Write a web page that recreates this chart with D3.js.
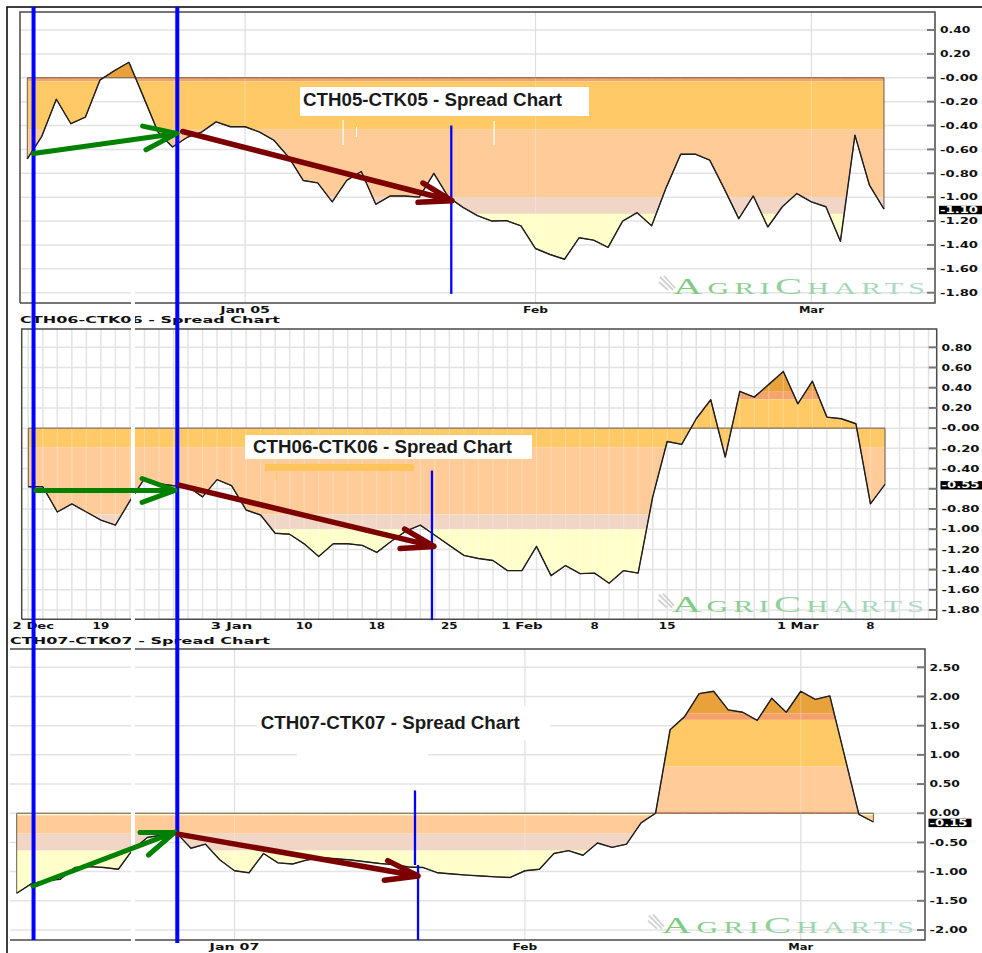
<!DOCTYPE html>
<html><head><meta charset="utf-8">
<script src="https://cdn.jsdelivr.net/npm/d3@7"></script>
<style>body{margin:0;background:#fff}svg{display:block}</style>
</head><body>
<svg id="c" width="982" height="953"></svg>
<script>
// ---------------- DATA ----------------
const titles = ["CTH05-CTK05 - Spread Chart", "CTH06-CTK06 - Spread Chart", "CTH07-CTK07 - Spread Chart"];

// daily spread values (trading-day index 0..59)
const spread05 = [-0.68,-0.49,-0.18,-0.385,-0.33,-0.02,0.06,0.13,-0.16,-0.455,
  -0.58,-0.50,-0.455,-0.37,-0.41,-0.41,-0.455,-0.525,-0.665,-0.86,
  -0.88,-1.04,-0.86,-0.785,-1.06,-0.99,-0.99,-1.0,-0.80,-1.0,
  -1.085,-1.155,-1.20,-1.196,-1.24,-1.43,-1.48,-1.52,-1.34,-1.36,
  -1.42,-1.20,-1.13,-1.24,-0.92,-0.64,-0.64,-0.69,-0.93,-1.18,
  -0.99,-1.25,-1.08,-0.97,-1.04,-1.08,-1.37,-0.48,-0.90,-1.10];
const spread06 = [-0.58,-0.58,-0.83,-0.75,-0.83,-0.91,-0.96,-0.72,-0.50,-0.55,
  -0.57,-0.58,-0.68,-0.51,-0.57,-0.81,-0.86,-1.04,-1.05,-1.145,
  -1.27,-1.145,-1.145,-1.16,-1.23,-1.12,-1.02,-0.96,-1.06,-1.16,
  -1.26,-1.29,-1.31,-1.41,-1.41,-1.17,-1.46,-1.36,-1.44,-1.435,
  -1.535,-1.41,-1.435,-0.683,-0.132,-0.161,0.093,0.281,-0.287,0.363,
  0.307,0.433,0.561,0.24,0.465,0.109,0.093,0.043,-0.75,-0.557];
const spread07 = [-1.37,-1.21,-1.155,-1.13,-0.93,-0.915,-0.93,-0.96,-0.62,-0.415,
  -0.375,-0.336,-0.60,-0.53,-0.80,-0.985,-1.02,-0.69,-0.85,-0.87,
  -0.80,-0.76,-0.78,-0.80,-0.83,-0.86,-0.88,-0.92,-0.93,-1.02,
  -1.04,-1.06,-1.075,-1.09,-1.10,-0.985,-0.96,-0.69,-0.64,-0.72,
  -0.51,-0.585,-0.53,-0.165,0.0,1.43,1.655,2.05,2.09,1.77,
  1.73,1.59,1.97,1.73,2.09,1.95,2.01,1.0,-0.02,-0.15];

const lastLabels = ["-1.10", "-0.55", "-0.15"];

// y-axis ticks and labels
const yTicks05 = [0.4,0.2,0,-0.2,-0.4,-0.6,-0.8,-1.0,-1.2,-1.4,-1.6,-1.8];
const yLabels05 = ["0.40","0.20","-0.00","-0.20","-0.40","-0.60","-0.80","-1.00","-1.20","-1.40","-1.60","-1.80"];
const yTicks06 = [0.8,0.6,0.4,0.2,0,-0.2,-0.4,-0.6,-0.8,-1.0,-1.2,-1.4,-1.6,-1.8];
const yLabels06 = ["0.80","0.60","0.40","0.20","-0.00","-0.20","-0.40","","-0.80","-1.00","-1.20","-1.40","-1.60","-1.80"];
const yTicks07 = [2.5,2.0,1.5,1.0,0.5,0,-0.5,-1.0,-1.5,-2.0];
const yLabels07 = ["2.50","2.00","1.50","1.00","0.50","0.00","-0.50","-1.00","-1.50","-2.00"];

// x-axis ticks (trading-day index) and labels
const xTicks05 = [15,35,54];
const xLabels05 = ["Jan 05","Feb","Mar"];
const xTicks06 = [0.35,5,14,19,24,29,34,39,44,53,58];
const xLabels06 = ["2 Dec","19","3 Jan","10","18","25","1 Feb","8","15","1 Mar","8"];
const xTicks07 = [15,35,54];
const xLabels07 = ["Jan 07","Feb","Mar"];

// value thresholds of the coloured bands of the filled area
const bandEdges05 = [0.6, 0, -0.03, -0.43, -1.0, -1.14, -2.0];
const bandEdges06 = [1.0, 0.36, 0.285, -0.19, -0.855, -1.0, -2.0];
const bandEdges07 = [3.0, 1.71, 1.6, 0.8, 0.03, 0, -0.035, -0.35, -0.64, -2.5];

// hand-drawn annotations, in (index, value) coordinates of each panel
const greenArrows = [[[0.43,-0.634],[10.3,-0.466]], [[0.53,-0.617],[10.1,-0.617]], [[1.12,-1.246],[10.9,-0.324]]];
const redArrows = [[[10.7,-0.45],[29.25,-1.03]], [[10.45,-0.567],[27.94,-1.171]], [[11.11,-0.358],[27.64,-1.075]]];
const blueMarkers = [[[29.2,-0.40,-1.81]], [[27.8,-0.42,-1.90]], [[27.43,0.39,-0.887],[27.64,-0.887,-2.17]]];
const blueLinesIdx = [0.43, 10.33]; // in panel-1 index coordinates, spanning all panels

// ---------------- STYLE / LAYOUT ----------------
const bandColors05 = ["#E9A23B","#F5A36C","#FFC966","#FFCC99","#F1D6C6","#FFFFCC"];
const bandColors06 = ["#E9A23B","#F5A46E","#FFC966","#FFCC99","#F1D6C6","#FFFFCC"];
const bandColors07 = ["#E9A23B","#F5A06A","#FFC966","#FFCC99","#F5A06A","#FFFFCC","#FFCC99","#F1D6C6","#FFFFCC"];

const STEP = 14.52;
const panels = [
  {data: spread05, yT: yTicks05, yL: yLabels05, xT: xTicks05, xL: xLabels05, edges: bandEdges05, colors: bandColors05,
   left:20, right:935, top:12, bottom:303, x0:27.3, yDom:[0.4,-1.8], yRng:[30,292.7], lblX:940,
   titleBox:[300,87,289,29], titleXY:[303,106], wm:[673,294], header:null, dense:false, leftEdge:true},
  {data: spread06, yT: yTicks06, yL: yLabels06, xT: xTicks06, xL: xLabels06, edges: bandEdges06, colors: bandColors06,
   left:21.7, right:936.7, top:329, bottom:619.3, x0:28.3, yDom:[0.8,-1.8], yRng:[347.3,610], lblX:941.5,
   titleBox:[245,435,287,24], titleXY:[253,453.3], wm:[672,611.7], header:[20,322.5], dense:true, leftEdge:true},
  {data: spread07, yT: yTicks07, yL: yLabels07, xT: xTicks07, xL: xLabels07, edges: bandEdges07, colors: bandColors07,
   left:10, right:925, top:649, bottom:940, x0:16.7, yDom:[2.5,-2.0], yRng:[667.3,930], lblX:929.5,
   titleBox:[257,706,293,34], titleXY:[260.7,729.3], wm:[662,932.7], header:[10,643.5], dense:false, leftEdge:false}
];

const svg = d3.select("#c");
const defs = svg.append("defs");
const grad = defs.append("linearGradient").attr("id","wmGrad");
grad.append("stop").attr("offset","0%").attr("stop-color","#7CC97C");
grad.append("stop").attr("offset","100%").attr("stop-color","#B2DCCB");

function smallText(g, x, y, str, perChar, anchor, fill, size) {
  return g.append("text").attr("x", x).attr("y", y)
    .attr("font-family", "DejaVu Sans, sans-serif").attr("font-weight", "bold")
    .attr("font-size", size || 9.5).attr("fill", fill || "#111")
    .attr("text-anchor", anchor || "start")
    .attr("textLength", str.length * perChar).attr("lengthAdjust", "spacingAndGlyphs")
    .text(str);
}

function arrow(g, p0, p1, color, width, len, angDeg) {
  const a = Math.atan2(p1[1]-p0[1], p1[0]-p0[0]);
  const r = angDeg * Math.PI / 180;
  const b1 = [p1[0] - len*Math.cos(a - r), p1[1] - len*Math.sin(a - r)];
  const b2 = [p1[0] - len*Math.cos(a + r), p1[1] - len*Math.sin(a + r)];
  const p = d3.path();
  p.moveTo(p0[0], p0[1]); p.lineTo(p1[0], p1[1]);
  p.moveTo(b1[0], b1[1]); p.lineTo(p1[0], p1[1]); p.lineTo(b2[0], b2[1]);
  g.append("path").attr("d", p.toString()).attr("fill","none").attr("stroke", color)
    .attr("stroke-width", width).attr("stroke-linecap","round").attr("stroke-linejoin","round");
}

const scales = [];
panels.forEach((P, pi) => {
  const g = svg.append("g");
  const n = P.data.length;
  const x = d3.scaleLinear().domain([0, n-1]).range([P.x0, P.x0 + (n-1)*STEP]);
  const y = d3.scaleLinear().domain(P.yDom).range(P.yRng);
  scales.push({x, y});

  // grid
  const grid = g.append("g");
  P.yT.forEach(v => grid.append("line").attr("x1", P.left).attr("x2", P.right)
    .attr("y1", y(v)).attr("y2", y(v)).attr("stroke", "#e3e3e3").attr("stroke-width", 1.5));
  let vIdx;
  if (P.dense) {
    const lo = Math.ceil(x.invert(P.left)), hi = Math.floor(x.invert(P.right));
    vIdx = d3.range(lo, hi + 1);
  } else vIdx = P.xT;
  vIdx.forEach(i => grid.append("line").attr("x1", x(i)).attr("x2", x(i))
    .attr("y1", P.top).attr("y2", P.bottom).attr("stroke", P.dense ? "#e3e3e3" : "#dedede")
    .attr("stroke-width", P.dense ? 1.5 : 1.2));

  // filled area with coloured bands
  const area = d3.area().x((d,i) => x(i)).y0(y(0)).y1(d => y(d));
  const clipId = "clip" + pi;
  defs.append("clipPath").attr("id", clipId).append("path").attr("d", area(P.data));
  const fill = g.append("g").attr("clip-path", `url(#${clipId})`);
  for (let k = 0; k < P.colors.length; k++) {
    const yA = y(P.edges[k]), yB = y(P.edges[k+1]);
    fill.append("rect").attr("x", x(0)).attr("width", x(n-1) - x(0))
      .attr("y", Math.min(yA, yB)).attr("height", Math.abs(yB - yA)).attr("fill", P.colors[k]);
  }
  // faint grid showing through the fill
  vIdx.forEach(i => fill.append("line").attr("x1", x(i)).attr("x2", x(i))
    .attr("y1", P.top).attr("y2", P.bottom).attr("stroke", "#fff").attr("stroke-opacity", 0.25).attr("stroke-width", 1.2));

  g.append("path").attr("d", area(P.data)).attr("fill", "none").attr("stroke", "#6b5a45").attr("stroke-width", 1);
  const line = d3.line().x((d,i) => x(i)).y(d => y(d));
  g.append("path").attr("d", line(P.data)).attr("fill", "none").attr("stroke", "#1e1e1e")
    .attr("stroke-width", 1.4).attr("stroke-linejoin", "round");

  // frame
  const fr = d3.path();
  if (P.leftEdge) { fr.moveTo(P.left, P.bottom); fr.lineTo(P.left, P.top); } else fr.moveTo(P.left, P.top);
  fr.lineTo(P.right, P.top); fr.lineTo(P.right, P.bottom); fr.lineTo(P.left, P.bottom);
  g.append("path").attr("d", fr.toString()).attr("fill", "none").attr("stroke", "#4a4a4a").attr("stroke-width", 1.5);

  // y axis ticks + labels (a label crowded by the last-value box is nudged up)
  const lv = P.data[n-1];
  const boxTop = y(lv) - 3.3;
  P.yT.forEach((v, k) => {
    g.append("line").attr("x1", P.right - 8).attr("x2", P.right).attr("y1", y(v)).attr("y2", y(v))
      .attr("stroke", "#777").attr("stroke-width", 2);
    if (P.yL[k]) {
      let base = y(v) + 3.3;
      if (base < boxTop + 8 && base > boxTop - 12) base = Math.min(base, boxTop - 2.6);
      smallText(g, P.lblX, base, P.yL[k], 7.6);
    }
  });
  // last value box
  g.append("rect").attr("x", P.lblX - 1).attr("y", boxTop).attr("width", 43).attr("height", 8.4).attr("fill", "#000");
  smallText(g, P.lblX, y(lv) + 3.8, lastLabels[pi], 7.6, "start", "#fff", 8.4);

  // x labels
  P.xT.forEach((t, k) => smallText(g, x(t), P.bottom + 9.5, P.xL[k], 8.3, "middle"));

  // title box
  const tb = P.titleBox;
  g.append("rect").attr("x", tb[0]).attr("y", tb[1]).attr("width", tb[2]).attr("height", tb[3]).attr("fill", "#fff");
  g.append("text").attr("x", P.titleXY[0]).attr("y", P.titleXY[1])
    .attr("font-family", "Liberation Sans, Arial, sans-serif").attr("font-weight", "bold")
    .attr("font-size", 18.5).attr("fill", "#1a1a1a")
    .attr("textLength", 259).attr("lengthAdjust", "spacingAndGlyphs").text(titles[pi]);

  // watermark
  const wg = g.append("g");
  const lx = P.wm[0] - 13, ly = P.wm[1] - 17;
  wg.append("path").attr("d", `M${lx},${ly} l13,13 M${lx+4},${ly-1} l11,12 M${lx-1},${ly+5} l9,8`)
    .attr("stroke", "#d0d0d0").attr("stroke-width", 1.8).attr("fill", "none");
  const ws = wg.append("g");
  const wt = ws.append("text").attr("x", 0).attr("y", 0)
    .attr("font-family", "Liberation Serif, Times New Roman, serif").attr("fill", "url(#wmGrad)")
    .attr("letter-spacing", 3);
  wt.append("tspan").attr("font-size", 23).text("A");
  wt.append("tspan").attr("font-size", 17).text("GRI");
  wt.append("tspan").attr("font-size", 23).text("C");
  wt.append("tspan").attr("font-size", 17).text("HARTS");
  const bb = wt.node().getBBox();
  const sx = 252 / Math.max(bb.width - 3, 50);
  ws.attr("transform", `translate(${P.wm[0]},${P.wm[1]}) scale(${sx},1)`);

  // small header
  if (P.header) smallText(g, P.header[0], P.header[1], titles[pi], 10);
});

// extra white patches seen in the picture
const white = svg.append("g").attr("fill", "#fff");
white.append("rect").attr("x", 297).attr("y", 745).attr("width", 131).attr("height", 16);
white.append("rect").attr("x", 342.5).attr("y", 120).attr("width", 1.2).attr("height", 25);
white.append("rect").attr("x", 356).attr("y", 127).attr("width", 1).attr("height", 10);
white.append("rect").attr("x", 493.5).attr("y", 121).attr("width", 1.2).attr("height", 24);
white.append("rect").attr("x", 131).attr("y", 292).attr("width", 4).attr("height", 653);
// orange bar under middle title
svg.append("rect").attr("x", 265).attr("y", 464).attr("width", 149).attr("height", 7).attr("fill", "#FFC45C");
svg.append("rect").attr("x", 275.5).attr("y", 471).attr("width", 1.2).attr("height", 9).attr("fill", "#FFC45C");

// outer border
svg.append("path").attr("d", "M7,953 L7,7 L982,7").attr("fill", "none").attr("stroke", "#000").attr("stroke-width", 1.5);

// annotations
const ann = svg.append("g");
panels.forEach((P, pi) => {
  const {x, y} = scales[pi];
  blueMarkers[pi].forEach(m => ann.append("line").attr("x1", x(m[0])).attr("x2", x(m[0]))
    .attr("y1", y(m[1])).attr("y2", y(m[2])).attr("stroke", "#0000FF").attr("stroke-width", 2.3));
});
const x1 = scales[0].x;
blueLinesIdx.forEach((i, k) => ann.append("line").attr("x1", x1(i)).attr("x2", x1(i))
  .attr("y1", 7).attr("y2", k ? 943 : 940).attr("stroke", "#0000FF").attr("stroke-width", 4));
panels.forEach((P, pi) => {
  const {x, y} = scales[pi];
  const ga = greenArrows[pi], ra = redArrows[pi];
  arrow(ann, [x(ga[0][0]), y(ga[0][1])], [x(ga[1][0]), y(ga[1][1])], "#008200", 5, 35, 20);
  arrow(ann, [x(ra[0][0]), y(ra[0][1])], [x(ra[1][0]), y(ra[1][1])], "#7D0000", 5.5, 34, 17);
});
</script>
</body></html>
